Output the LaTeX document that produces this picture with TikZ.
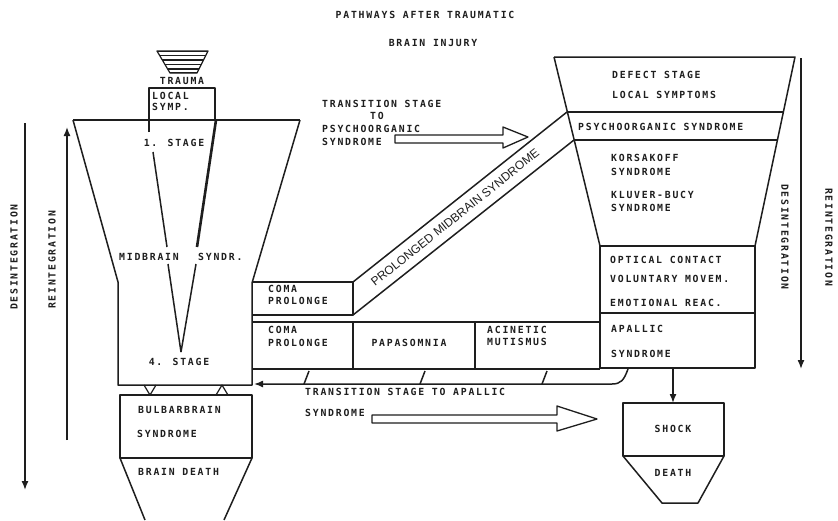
\documentclass[tikz,border=0pt]{standalone}
\usepackage{fontspec}
\newfontfamily\lf[LetterSpace=18]{DejaVu Sans Mono Bold}
\newfontfamily\bandfont{Liberation Sans}
\usetikzlibrary{arrows.meta}
\definecolor{ink}{HTML}{1E1E1E}
\begin{document}
\begin{tikzpicture}[x=1pt,y=-1pt,line join=round,
  ln/.style={draw=ink,line width=1.5pt},
  thk/.style={draw=ink,line width=2.6pt},
  lbl/.style={font=\lf\fontsize{9.8}{10}\selectfont,text=ink,inner sep=0pt,anchor=west},
  clbl/.style={lbl,anchor=center},
  tip/.style={-{Latex[length=9pt,width=7pt]}},
  hollow/.style={draw=ink,line width=1.3pt,fill=white}]
\useasboundingbox (0,0) rectangle (838,520);
\fill[white] (0,0) rectangle (838,520);

% title
\node[clbl] (t1) at (425,15) {PATHWAYS AFTER TRAUMATIC};
\node[clbl] (t2) at (433,43) {BRAIN INJURY};

% trauma icon
\begin{scope}
\clip (157,51)--(208,51)--(197,73)--(170,73)--cycle;
\foreach \yy in {51,55.5,60,64.5,69,73} \draw[ink,line width=1.6pt] (150,\yy)--(215,\yy);
\end{scope}
\draw[ln,line width=1.2pt] (157,51)--(208,51)--(197,73)--(170,73)--cycle;
\node[clbl] (trauma) at (182,81) {TRAUMA};

% local symptoms box
\draw[ln] (149,132)--(149,88)--(215,88)--(215,120);
\node[lbl] (ls1) at (152,96) {LOCAL};
\node[lbl] (ls2) at (152,107) {SYMP.};

% left funnel
\draw[ln] (73,120)--(300,120);
\draw[ln] (73,120)--(118,282)--(118,385)--(252,385)--(252,283)--(300,120);
\draw[ln] (153,152)--(167,247);
\draw[ln] (168,264)--(181,352);
\draw[thk] (216,120)--(197,247);
\draw[ln] (196,264)--(181,352);
\node[clbl] (st1) at (174,143) {1. STAGE};
\node[lbl] (mid1) at (119,257) {MIDBRAIN};
\node[lbl] (mid2) at (198,257) {SYNDR.};
\node[clbl] (st4) at (179,362) {4. STAGE};

% small connectors
\draw[ln,line width=1.2pt] (144,385)--(150,395)--(156,385);
\draw[ln,line width=1.2pt] (216,395)--(222,385)--(228,395);

% bulbarbrain + brain death
\draw[ln] (120,395) rectangle (252,458);
\node[lbl] (bb1) at (138,410) {BULBARBRAIN};
\node[lbl] (bb2) at (137,434) {SYNDROME};
\draw[ln] (145,520)--(120,458);
\draw[ln] (252,458)--(224,520);
\node[lbl] (bd) at (138,472) {BRAIN DEATH};

% left arrows
\coordinate (ld1) at (25,123); \coordinate (ld2) at (25,490);
\draw[ln,line width=1.4pt,tip] (ld1)--(ld2);
\node[clbl,rotate=90] (ldes) at (14,257) {DESINTEGRATION};
\coordinate (lr1) at (67,440); \coordinate (lr2) at (67,127);
\draw[ln,line width=1.4pt,tip] (lr1)--(lr2);
\node[clbl,rotate=90] (lrei) at (52,260) {REINTEGRATION};

% right arrows
\coordinate (rd1) at (801,58); \coordinate (rd2) at (801,369);
\draw[ln,line width=1.4pt,tip] (rd1)--(rd2);
\node[clbl,rotate=-90] (rdes) at (785,237) {DESINTEGRATION};
\node[clbl,rotate=-90] (rrei) at (829,237) {REINTEGRATION};

% right funnel
\draw[ln] (554,57)--(795,57)--(755,246);
\draw[ln] (554,57)--(600,246);
\draw[ln] (567,112)--(783,112);
\draw[ln] (574,140)--(777,140);
\draw[ln] (600,246) rectangle (755,368);
\draw[ln] (600,313)--(755,313);
\node[lbl] (r1) at (612,75) {DEFECT STAGE};
\node[lbl] (r2) at (612,95) {LOCAL SYMPTOMS};
\node[lbl] (r3) at (578,127) {PSYCHOORGANIC SYNDROME};
\node[lbl] (r4) at (611,158) {KORSAKOFF};
\node[lbl] (r5) at (611,172) {SYNDROME};
\node[lbl] (r6) at (611,195) {KLUVER-BUCY};
\node[lbl] (r7) at (611,208) {SYNDROME};
\node[lbl] (r8) at (610,260) {OPTICAL CONTACT};
\node[lbl] (r9) at (610,279) {VOLUNTARY MOVEM.};
\node[lbl] (r10) at (610,303) {EMOTIONAL REAC.};
\node[lbl] (r11) at (611,329) {APALLIC};
\node[lbl] (r12) at (611,354) {SYNDROME};

% shock / death
\coordinate (sa) at (673,368); \coordinate (sb) at (673,403);
\draw[ln,tip] (sa)--(sb);
\draw[ln] (623,403) rectangle (724,456);
\draw[ln] (623,456)--(662,503)--(698,503)--(724,456);
\node[clbl] (shock) at (673,429) {SHOCK};
\node[clbl] (death) at (673,473) {DEATH};

% middle: coma prolonge + prolonged midbrain band
\draw[ln] (252,282)--(353,282)--(353,315)--(252,315);
\node[lbl] (c1) at (268,289) {COMA};
\node[lbl] (c2) at (268,301) {PROLONGE};
\draw[ln] (353,282)--(567,112);
\draw[ln] (353,315)--(574,140);
\node[font=\bandfont\fontsize{12}{12}\selectfont,text=ink,inner sep=0pt,rotate=38.7] (band) at (455,217.5) {PROLONGED MIDBRAIN SYNDROME};

% lower row
\draw[ln] (252,322)--(600,322);
\draw[ln] (252,369)--(600,369);
\draw[ln] (353,322)--(353,369);
\draw[ln] (475,322)--(475,369);
\node[lbl] (c3) at (268,330) {COMA};
\node[lbl] (c4) at (268,343) {PROLONGE};
\node[clbl] (para) at (409,343) {PAPASOMNIA};
\node[lbl] (ac1) at (487,330) {ACINETIC};
\node[lbl] (ac2) at (487,342) {MUTISMUS};

% transition line to 4th stage
\coordinate (tr0) at (628,369); \coordinate (tr1) at (254,384);
\draw[ln,tip] (tr0) .. controls (624,380) and (621,384) .. (612,384) -- (tr1);
\foreach \xx in {307,423,545} \draw[ln] (\xx-3,384)--(\xx+2,371);

% transition to apallic
\node[lbl] (ta1) at (305,392) {TRANSITION STAGE TO APALLIC};
\node[lbl] (ta2) at (305,413) {SYNDROME};
\draw[hollow] (372,415)--(557,415)--(557,406)--(597,419)--(557,431)--(557,423)--(372,423)--cycle;

% transition to psychoorganic
\node[lbl] (tp1) at (322,104) {TRANSITION STAGE};
\node[clbl] (tp2) at (377,116) {TO};
\node[lbl] (tp3) at (322,129) {PSYCHOORGANIC};
\node[lbl] (tp4) at (322,142) {SYNDROME};
\draw[hollow] (395,135)--(503,135)--(503,127)--(528,137)--(503,148)--(503,143)--(395,143)--cycle;
\end{tikzpicture}
\end{document}
